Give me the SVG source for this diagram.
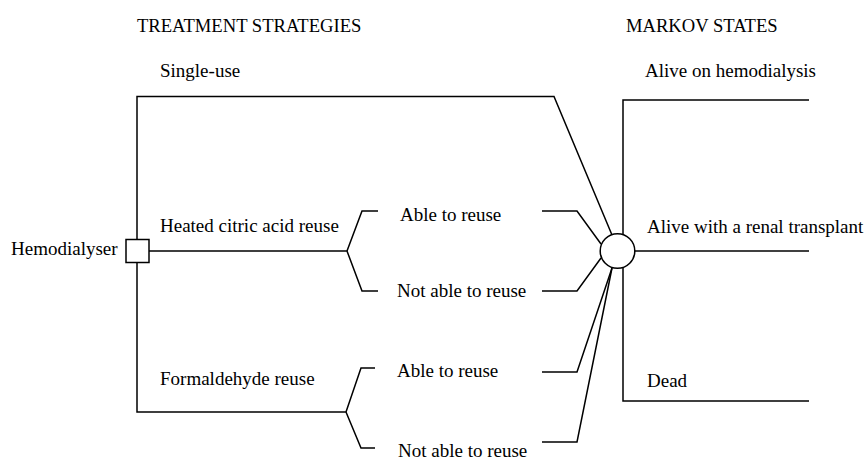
<svg xmlns="http://www.w3.org/2000/svg" width="867" height="460" viewBox="0 0 867 460">
<style>
text{font-family:"Liberation Serif","Times New Roman",serif;font-size:19px;fill:#000}
.hd{font-size:18.6px}
.ln{fill:none;stroke:#000;stroke-width:1.5}
.nd{fill:#fff;stroke:#000;stroke-width:1.5}
</style>
<rect width="867" height="460" fill="#fff"/>
<g id="headers">
<text class="hd" x="137" y="32">TREATMENT STRATEGIES</text>
<text class="hd" x="626" y="32">MARKOV STATES</text>
</g>
<g id="connectors" class="ln">
<path d="M137,251 V96.5 H554 L612,235"/>
<path d="M149,251 H347 L362,211 H378 M347,251 L362,291 H378"/>
<path d="M542,211 H577 L601,244"/>
<path d="M542,291 H577 L601,258"/>
<path d="M137,262 V412 H346 L361,368 H375 M346,412 L361,448 H375"/>
<path d="M542,372 H577 L612,268"/>
<path d="M542,442 H577 L612,268"/>
<path d="M809,100 H623 V401 H809"/>
<path d="M634,251 H809"/>
</g>
<g id="hemodialyser">
<rect class="nd" x="126" y="239.5" width="23" height="23"/>
<text x="11" y="255">Hemodialyser</text>
</g>
<g id="single-use"><text x="160" y="77">Single-use</text></g>
<g id="heated"><text x="160" y="232">Heated citric acid reuse</text></g>
<g id="formaldehyde"><text x="160" y="385">Formaldehyde reuse</text></g>
<g id="hca-able"><text x="400" y="221">Able to reuse</text></g>
<g id="hca-not"><text x="397" y="297">Not able to reuse</text></g>
<g id="f-able"><text x="397" y="377">Able to reuse</text></g>
<g id="f-not"><text x="398" y="457">Not able to reuse</text></g>
<g id="markov">
<circle class="nd" cx="617.5" cy="251" r="17.3"/>
</g>
<g id="state-hemo"><text x="645" y="77">Alive on hemodialysis</text></g>
<g id="state-transplant"><text x="647" y="233">Alive with a renal transplant</text></g>
<g id="state-dead"><text x="647" y="387">Dead</text></g>
</svg>
